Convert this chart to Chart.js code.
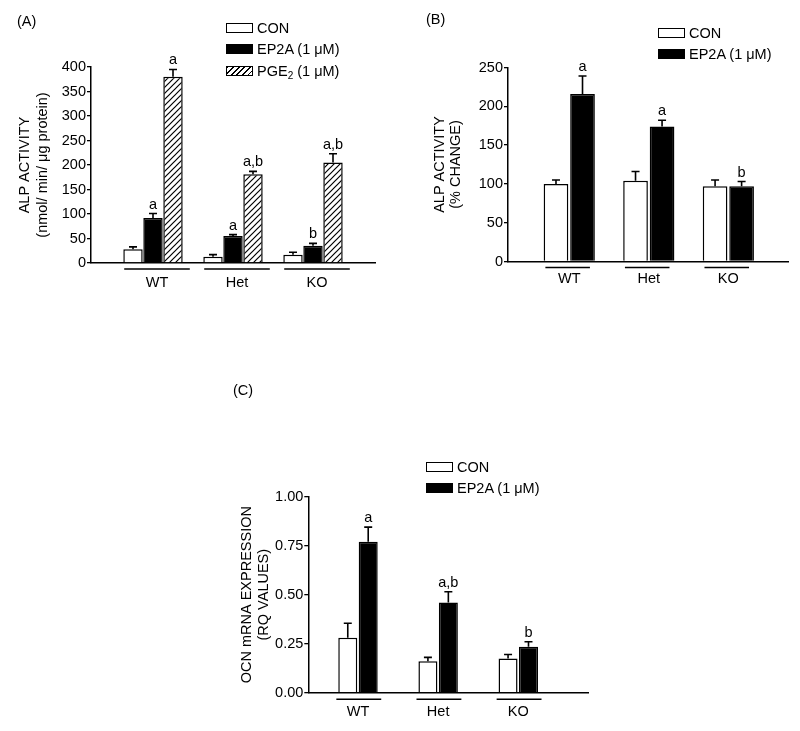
<!DOCTYPE html>
<html lang="en">
<head>
    <meta charset="UTF-8">
    <title>ALP activity and OCN expression</title>
    <script src="https://cdn.jsdelivr.net/npm/chart.js"></script>
    <style>
        body { margin: 0; background: #fff; }
        #fig { position: relative; width: 800px; height: 731px; background: #fff;
               font-family: Arial, "Liberation Sans", Helvetica, sans-serif; font-size: 14.5px; color: #000; }
        #fig canvas { position: absolute; }
        .tag { position: absolute; line-height: 16px; }
        .leg { position: absolute; }
        .leg .row { display: flex; align-items: center; white-space: nowrap; }
        .sw { display: inline-block; width: 27px; height: 10px; margin-right: 4px; border: 1.5px solid #000; box-sizing: border-box; }
        .sw.con { background: #fff; }
        .sw.ep2a { background: #000; }
        .sw.pge2 { background: repeating-linear-gradient(135deg, #000 0 1.2px, #fff 1.2px 4px); }
        sub { font-size: 10px; vertical-align: -3px; line-height: 0; }
    </style>
</head>
<body>
    <div id="fig">
        <canvas id="chartA" width="400" height="300" style="left:0;top:0"></canvas>
        <canvas id="chartB" width="400" height="300" style="left:400px;top:0"></canvas>
        <canvas id="chartC" width="380" height="351" style="left:220px;top:380px"></canvas>

        <div class="tag" style="left:17px;top:13px">(A)</div>
        <div class="tag" style="left:426px;top:11px">(B)</div>
        <div class="tag" style="left:233px;top:382px">(C)</div>

        <div class="leg" style="left:226px;top:17px">
            <div class="row" style="height:21.5px"><span class="sw con"></span><span>CON</span></div>
            <div class="row" style="height:21.5px"><span class="sw ep2a"></span><span>EP2A (1 μM)</span></div>
            <div class="row" style="height:21.5px"><span class="sw pge2"></span><span>PGE<sub>2</sub> (1 μM)</span></div>
        </div>
        <div class="leg" style="left:658px;top:22px">
            <div class="row" style="height:21px"><span class="sw con"></span><span>CON</span></div>
            <div class="row" style="height:21px"><span class="sw ep2a"></span><span>EP2A (1 μM)</span></div>
        </div>
        <div class="leg" style="left:426px;top:457px">
            <div class="row" style="height:20.5px"><span class="sw con"></span><span>CON</span></div>
            <div class="row" style="height:20.5px"><span class="sw ep2a"></span><span>EP2A (1 μM)</span></div>
        </div>
    </div>

    <script>
        const groups = ['WT', 'Het', 'KO'];

        // (A) ALP activity, nmol/min/µg protein
        const aTicks = [0, 50, 100, 150, 200, 250, 300, 350, 400];
        const aCon = [28, 13, 17];
        const aConErr = [5, 4, 5];
        const aEp2a = [92, 55, 35];
        const aEp2aErr = [9, 3, 5];
        const aPge2 = [380, 181, 205];
        const aPge2Err = [15, 6, 18];
        const aEp2aSig = ['a', 'a', 'b'];
        const aPge2Sig = ['a', 'a,b', 'a,b'];

        // (B) ALP activity, % change
        const bTicks = [0, 50, 100, 150, 200, 250];
        const bCon = [100, 104, 97];
        const bConErr = [5, 12, 8];
        const bEp2a = [216, 174, 97];
        const bEp2aErr = [23, 8, 6];
        const bEp2aSig = ['a', 'a', 'b'];

        // (C) OCN mRNA, RQ values
        const cTicks = [0, 0.25, 0.5, 0.75, 1];
        const cCon = [0.28, 0.16, 0.175];
        const cConErr = [0.074, 0.02, 0.02];
        const cEp2a = [0.77, 0.46, 0.235];
        const cEp2aErr = [0.075, 0.055, 0.025];
        const cEp2aSig = ['a', 'a,b', 'b'];

        const FONT = 'Arial, "Liberation Sans", Helvetica, sans-serif';
        Chart.defaults.font.family = FONT;
        Chart.defaults.font.size = 14.5;
        Chart.defaults.color = '#000';

        // diagonal hatch for PGE2 bars
        function hatch() {
            const c = document.createElement('canvas');
            c.width = c.height = 6;
            const g = c.getContext('2d');
            g.fillStyle = '#fff';
            g.fillRect(0, 0, 6, 6);
            g.strokeStyle = '#000';
            g.lineWidth = 1.2;
            g.beginPath();
            g.moveTo(0, 6); g.lineTo(6, 0);
            g.moveTo(-3, 3); g.lineTo(3, -3);
            g.moveTo(3, 9); g.lineTo(9, 3);
            g.stroke();
            return g.createPattern(c, 'repeat');
        }

        // SEM whiskers (upper only) + significance letters
        const errorBars = {
            id: 'errorBars',
            afterDatasetsDraw(chart) {
                const { ctx, scales: { y } } = chart;
                ctx.save();
                ctx.strokeStyle = '#000';
                ctx.fillStyle = '#000';
                ctx.lineWidth = 1.6;
                ctx.font = '14.5px ' + FONT;
                ctx.textAlign = 'center';
                ctx.textBaseline = 'alphabetic';
                chart.data.datasets.forEach((ds, di) => {
                    chart.getDatasetMeta(di).data.forEach((bar, i) => {
                        const top = y.getPixelForValue(ds.data[i].y + ds.errors[i]);
                        ctx.beginPath();
                        ctx.moveTo(bar.x, bar.y);
                        ctx.lineTo(bar.x, top);
                        ctx.moveTo(bar.x - 4, top);
                        ctx.lineTo(bar.x + 4, top);
                        ctx.stroke();
                        if (ds.marks && ds.marks[i]) ctx.fillText(ds.marks[i], bar.x, top - 5);
                    });
                });
                ctx.restore();
            }
        };

        // short lines under each genotype group
        const groupLines = {
            id: 'groupLines',
            afterDraw(chart, args, opts) {
                const { ctx, scales: { x }, chartArea } = chart;
                const yy = chartArea.bottom + opts.gap;
                ctx.save();
                ctx.strokeStyle = '#000';
                ctx.lineWidth = 1.5;
                groups.forEach((g, i) => {
                    ctx.beginPath();
                    ctx.moveTo(x.getPixelForValue(i + opts.from), yy);
                    ctx.lineTo(x.getPixelForValue(i + opts.to), yy);
                    ctx.stroke();
                });
                ctx.restore();
            }
        };

        function makePanel(id, o) {
            return new Chart(document.getElementById(id), {
                type: 'bar',
                data: {
                    datasets: o.series.map(s => ({
                        label: s.label,
                        data: s.values.map((v, i) => ({ x: i, y: v })),
                        errors: s.errors,
                        marks: s.marks,
                        backgroundColor: s.fill,
                        borderColor: '#000',
                        borderWidth: 1.5,
                        categoryPercentage: o.catPct,
                        barPercentage: o.barPct
                    }))
                },
                options: {
                    responsive: false,
                    animation: false,
                    events: [],
                    layout: { padding: o.pad },
                    plugins: {
                        legend: { display: false },
                        tooltip: { enabled: false },
                        groupLines: o.lines
                    },
                    scales: {
                        x: {
                            type: 'linear',
                            min: o.xMin,
                            max: o.xMax,
                            offset: false,
                            z: 1,
                            afterBuildTicks: s => { s.ticks = groups.map((g, i) => ({ value: i })); },
                            ticks: {
                                callback: (v, i) => groups[i],
                                autoSkip: false,
                                maxRotation: 0,
                                padding: o.xPad,
                                labelOffset: o.labelOffset
                            },
                            grid: { display: false, drawTicks: false, offset: false },
                            border: { color: '#000', width: 1.5 },
                            afterFit: s => { s.height = o.xHeight; }
                        },
                        y: {
                            min: o.yTicks[0],
                            max: o.yTicks[o.yTicks.length - 1],
                            afterBuildTicks: s => { s.ticks = o.yTicks.map(v => ({ value: v })); },
                            ticks: { padding: 1, callback: o.fmt },
                            grid: { drawOnChartArea: false, tickLength: 4, color: '#000', lineWidth: 1.3 },
                            border: { color: '#000', width: 1.5 },
                            title: {
                                display: true,
                                text: o.yTitle,
                                font: { size: 14.5, lineHeight: o.titleLH + 'px' },
                                padding: { top: o.titlePad, bottom: 0 }
                            },
                            afterFit: s => { s.width = o.yWidth; }
                        }
                    }
                },
                plugins: [errorBars, groupLines]
            });
        }

        makePanel('chartA', {
            series: [
                { label: 'CON', values: aCon, errors: aConErr, marks: null, fill: '#fff' },
                { label: 'EP2A (1 μM)', values: aEp2a, errors: aEp2aErr, marks: aEp2aSig, fill: '#000' },
                { label: 'PGE2 (1 μM)', values: aPge2, errors: aPge2Err, marks: aPge2Sig, fill: hatch() }
            ],
            yTicks: aTicks,
            fmt: v => String(v),
            yTitle: ['ALP ACTIVITY', '(nmol/ min/ μg protein)'],
            titleLH: 18, titlePad: 16,
            yWidth: 91, xHeight: 37,
            pad: { top: 67, right: 25, bottom: 0, left: 0 },
            xMin: -0.775, xMax: 2.775,
            catPct: 0.75, barPct: 0.97,
            xPad: 11, labelOffset: 4,
            lines: { from: -0.36, to: 0.46, gap: 6 }
        });

        makePanel('chartB', {
            series: [
                { label: 'CON', values: bCon, errors: bConErr, marks: null, fill: '#fff' },
                { label: 'EP2A (1 μM)', values: bEp2a, errors: bEp2aErr, marks: bEp2aSig, fill: '#000' }
            ],
            yTicks: bTicks,
            fmt: v => String(v),
            yTitle: ['ALP ACTIVITY', '(% CHANGE)'],
            titleLH: 16, titlePad: 32,
            yWidth: 108, xHeight: 38.5,
            pad: { top: 67.5, right: 12, bottom: 0, left: 0 },
            xMin: -0.77, xMax: 2.75,
            catPct: 0.667, barPct: 0.93,
            xPad: 9, labelOffset: 0,
            lines: { from: -0.3, to: 0.26, gap: 6 }
        });

        makePanel('chartC', {
            series: [
                { label: 'CON', values: cCon, errors: cConErr, marks: null, fill: '#fff' },
                { label: 'EP2A (1 μM)', values: cEp2a, errors: cEp2aErr, marks: cEp2aSig, fill: '#000' }
            ],
            yTicks: cTicks,
            fmt: v => v.toFixed(2),
            yTitle: ['OCN mRNA EXPRESSION', '(RQ VALUES)'],
            titleLH: 17, titlePad: 18.5,
            yWidth: 88.3, xHeight: 38.3,
            pad: { top: 116.7, right: 12, bottom: 0, left: 0 },
            xMin: -0.62, xMax: 2.87,
            catPct: 0.51, barPct: 0.93,
            xPad: 11, labelOffset: 0,
            lines: { from: -0.27, to: 0.29, gap: 6.5 }
        });
    </script>
</body>
</html>
